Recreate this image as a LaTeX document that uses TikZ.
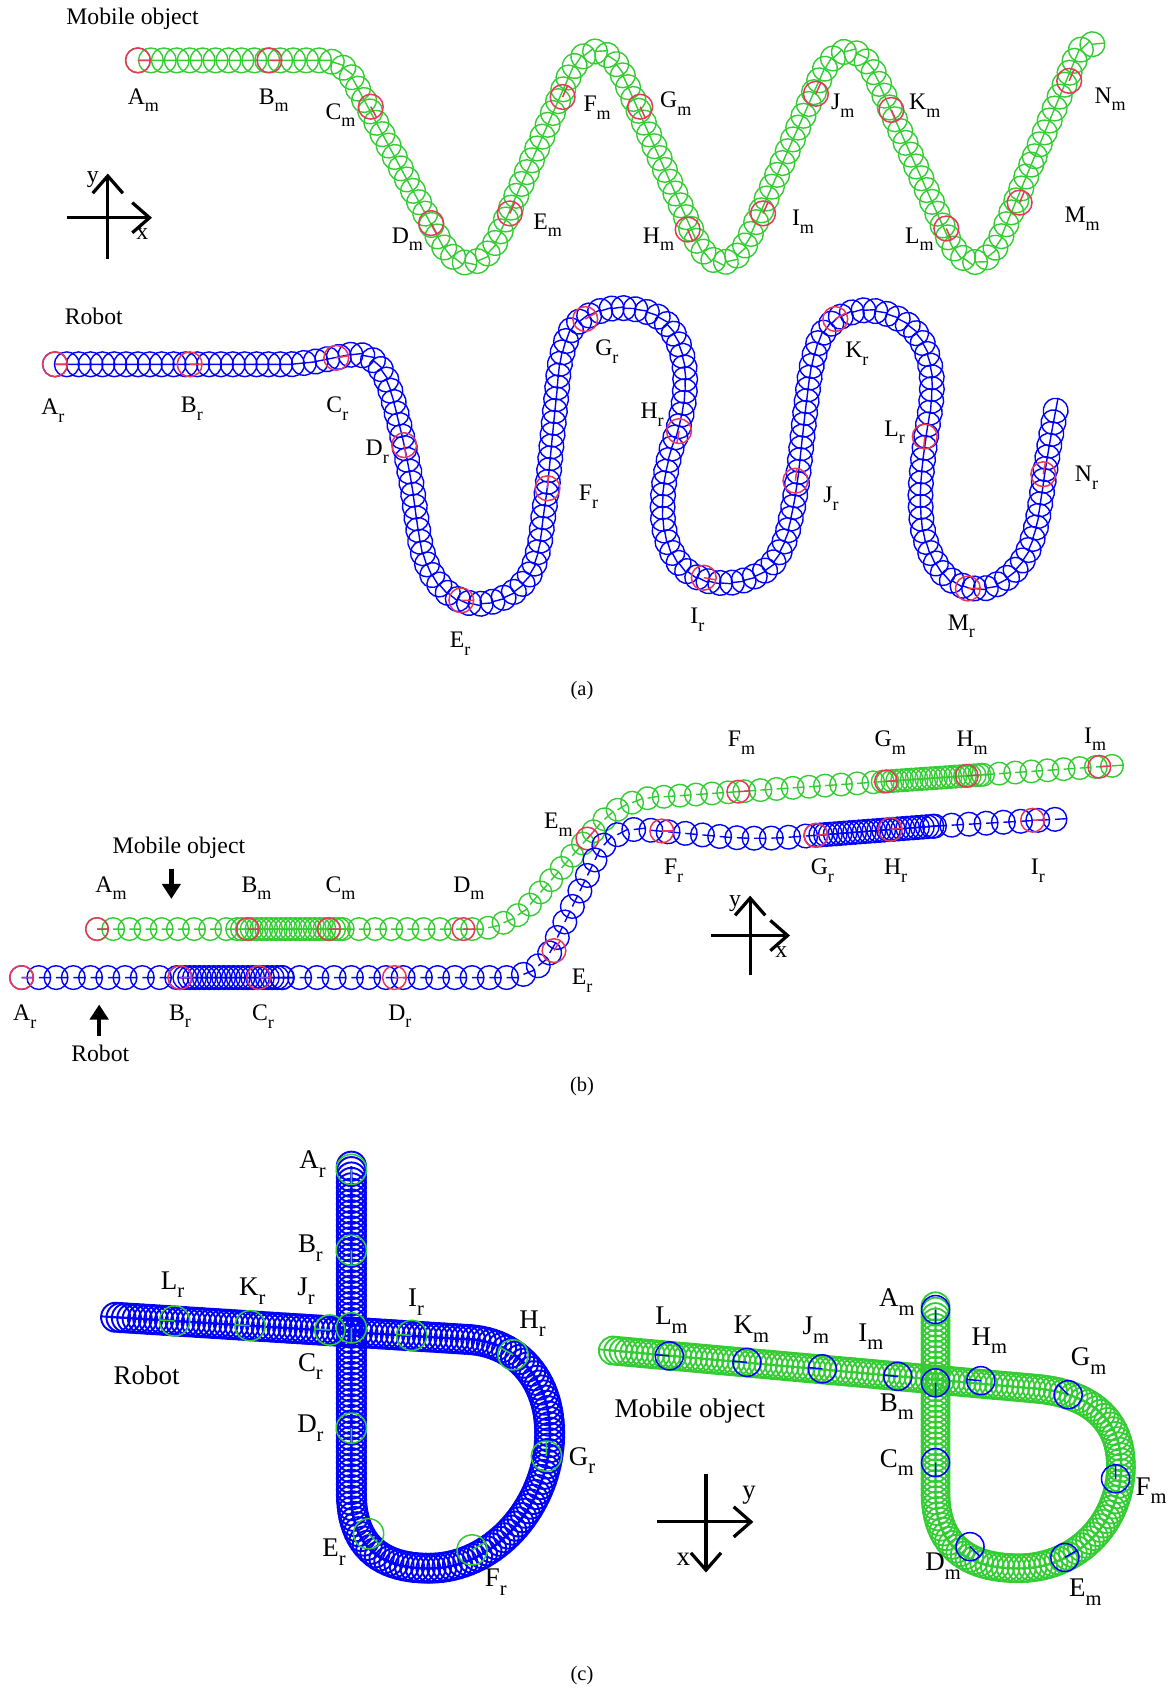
\documentclass[tikz,border=0pt]{standalone}
\usepackage{fontspec}
\usepackage{graphicx}
\setmainfont{Liberation Serif}
\usetikzlibrary{decorations.markings,arrows.meta}

\definecolor{trailgreen}{RGB}{51,204,51}
\definecolor{trailblue}{RGB}{0,0,255}
\definecolor{markred}{RGB}{232,56,90}

% A trail of poses: circles with a heading tick, repeated along a path
\tikzset{
  trail width/.store in=\trailwidth, trail width=0.65pt,
  trail/.style n args={3}{postaction={decorate,decoration={markings,
      mark=between positions 0 and 1 step #3 with
        {\draw[#1,line width=\trailwidth] (0,0) circle[radius=#2] (0,0) -- (#2,0);}}}},
  lbl/.style={inner sep=0pt,font=\fontsize{11}{12}\selectfont},
  lblc/.style={inner sep=0pt,font=\fontsize{12.5}{14}\selectfont},
  capt/.style={inner sep=0pt,font=\fontsize{9.5}{11}\selectfont},
  axis/.style={line width=1.5pt,-{Straight Barb[length=8pt,width=14pt]}},
  pointer/.style={line width=2pt,-{Triangle[length=7pt,width=8.5pt]}},
}
% a single highlighted pose: colour, radius, x, y, heading angle
\newcommand\headmark[5]{%
  \draw[#1,line width=0.7pt] (#3,#4) circle[radius=#2] (#3,#4) -- ++(#5:#2);}
% lowered index letter of a waypoint label
\newcommand\sbs[1]{\raisebox{-0.32em}{\scalebox{0.76}{#1}}}

\begin{document}
\begin{tikzpicture}[x=0.5pt,y=-0.5pt]
\useasboundingbox (0,0) rectangle (1089,1568);

%% ---------------- (a) ----------------
\node[lbl] (a-mob) at (123,17) {Mobile object};
\path[trail={trailgreen}{5.75pt}{6pt},rounded corners=9pt]
  (128,56) -- (318,56) -- (377.5,166.5);
\path[trail={trailgreen}{5.75pt}{6pt},rounded corners=31.5pt]
  (377.5,166.5) -- (437,277) -- (553,14) -- (670,277) -- (787,14) -- (905,277) -- (960,145);
\path[trail={trailgreen}{5.75pt}{6pt},rounded corners=5pt]
  (960,145) -- (1003,42) -- (1025,40);
\foreach \x/\y/\h in {128/56/0,250/56/0,344/99/-62,400/207/-62,473/198/66,522/90/66,
    594/99/-66,638/213/-66,708/198/66,757/87/66,827/102/-66,878/212/-66,946/188/67,992/75/67}
  {\headmark{markred}{5.75pt}{\x}{\y}{\h}}
\node[lbl] (a-Am) at (133,93) {A\sbs{m}};
\node[lbl] (a-Bm) at (254,93) {B\sbs{m}};
\node[lbl] (a-Cm) at (316,107) {C\sbs{m}};
\node[lbl] (a-Dm) at (378,222) {D\sbs{m}};
\node[lbl] (a-Em) at (508,209) {E\sbs{m}};
\node[lbl] (a-Fm) at (554,100) {F\sbs{m}};
\node[lbl] (a-Gm) at (627,96) {G\sbs{m}};
\node[lbl] (a-Hm) at (611,222) {H\sbs{m}};
\node[lbl] (a-Im) at (745,206) {I\sbs{m}};
\node[lbl] (a-Jm) at (782,98) {J\sbs{m}};
\node[lbl] (a-Km) at (858,98) {K\sbs{m}};
\node[lbl] (a-Lm) at (853,222) {L\sbs{m}};
\node[lbl] (a-Mm) at (1004,203) {M\sbs{m}};
\node[lbl] (a-Nm) at (1030,92) {N\sbs{m}};

% axes
\coordinate (a-ys) at (100,240); \coordinate (a-ye) at (100,161);
\coordinate (a-xs) at (62,202);  \coordinate (a-xe) at (141,202);
\draw[axis] (a-ys) -- (a-ye);
\draw[axis] (a-xs) -- (a-xe);
\node[lbl] (a-y) at (86,167) {y};
\node[lbl] (a-x) at (132,217) {x};

% robot
\node[lbl] (a-rob) at (87,294) {Robot};
\path[trail={trailblue}{5.75pt}{5.5pt}] (51,338) -- (270,338) -- plot[smooth,tension=0.55] coordinates {
  (290,336) (310,332) (328,329) (343,332) (355,345) (363,365)
  (370,392) (376,418) (382,450) (387,485) (392,512) (402,535) (418,552) (438,560)
  (458,558) (477,549) (492,532) (500,508) (504,480) (508,450) (512,410) (516,370)
  (520,335) (530,306) (548,292) (570,286) (595,288) (615,297) (628,315) (635,340)
  (635,368) (630,395) (622,420) (616,450) (615,480) (620,505) (632,525) (650,537)
  (672,541) (695,537) (715,525) (728,502) (735,475) (740,445) (744,410) (748,375)
  (753,340) (762,312) (778,295) (800,288) (822,291) (843,302) (857,320) (864,345)
  (864,372) (860,400) (856,430) (854,460) (856,490) (864,515) (878,535) (898,545)
  (918,545) (937,534) (952,515) (961,490) (966,462) (970,435) (975,405) (980,378)};
\foreach \x/\y/\h in {51/338/0,176/338/0,312/332/10,375/413/-80,428/557/0,508/453/85,
    543/296/30,630/400/-100,653/536/-10,738/446/83,775/296/30,858/405/-95,898/546/0,968/440/80}
  {\headmark{markred}{5.75pt}{\x}{\y}{\h}}
\node[lbl] (a-Ar) at (49,381) {A\sbs{r}};
\node[lbl] (a-Br) at (178,379) {B\sbs{r}};
\node[lbl] (a-Cr) at (313,379) {C\sbs{r}};
\node[lbl] (a-Dr) at (350,419) {D\sbs{r}};
\node[lbl] (a-Er) at (427,597) {E\sbs{r}};
\node[lbl] (a-Fr) at (546,461) {F\sbs{r}};
\node[lbl] (a-Gr) at (563,326) {G\sbs{r}};
\node[lbl] (a-Hr) at (605,385) {H\sbs{r}};
\node[lbl] (a-Ir) at (647,575) {I\sbs{r}};
\node[lbl] (a-Jr) at (771,463) {J\sbs{r}};
\node[lbl] (a-Kr) at (795,328) {K\sbs{r}};
\node[lbl] (a-Lr) at (830,401) {L\sbs{r}};
\node[lbl] (a-Mr) at (892,581) {M\sbs{r}};
\node[lbl] (a-Nr) at (1008,443) {N\sbs{r}};
\node[capt] (cap-a) at (540,641) {(a)};

%% ---------------- (b) ----------------
\path[trail={trailgreen}{5.25pt}{7.5pt}] (90,862) -- (220,862);
\path[trail={trailgreen}{5.25pt}{2.25pt}] (220,862) -- (318,862);
\path[trail={trailgreen}{5.25pt}{7.5pt},rounded corners=15pt]
  (318,862) -- (472,862) -- (576,742) -- (819,725.2);
\path[trail={trailgreen}{5.25pt}{2.25pt}] (819,725.2) -- (912,718.8);
\path[trail={trailgreen}{5.25pt}{7.5pt}] (912,718.8) -- (1040,710);
\foreach \x/\y/\h in {90/862/0,230/862/0,305/862/0,430/862/0,545/778/49,
    685/734.5/4,822/725/4,897/719.8/4,1020/711.4/4}
  {\headmark{markred}{5.25pt}{\x}{\y}{\h}}

\path[trail={trailblue}{5.5pt}{8pt}] (20,907) -- (167,907);
\path[trail={trailblue}{5.5pt}{2.25pt}] (167,907) -- (262,907);
\path[trail={trailblue}{5.5pt}{8pt},rounded corners=14pt]
  (262,907) -- (499,907) -- (567,767) -- (700,779) -- (757,775);
\path[trail={trailblue}{5.5pt}{2.25pt}] (757,775) -- (867,766.5);
\path[trail={trailblue}{5.5pt}{8pt}] (867,766.5) -- (982,760);
\foreach \x/\y/\h in {20/907/0,167/907/0,240/907/0,366/907/0,514/882/58,
    614/771/0,757/775/5,826/769.5/5,958/761/3}
  {\headmark{markred}{5.5pt}{\x}{\y}{\h}}

\node[lbl] (b-mob) at (166,787) {Mobile object};
\coordinate (b-mob-s) at (159,806); \coordinate (b-mob-e) at (159,834);
\draw[pointer] (b-mob-s) -- (b-mob-e);
\node[lbl] (b-rob) at (93,977) {Robot};
\coordinate (b-rob-s) at (92,961); \coordinate (b-rob-e) at (92,932);
\draw[pointer] (b-rob-s) -- (b-rob-e);

\node[lbl] (b-Am) at (103,824) {A\sbs{m}};
\node[lbl] (b-Bm) at (238,824) {B\sbs{m}};
\node[lbl] (b-Cm) at (316,824) {C\sbs{m}};
\node[lbl] (b-Dm) at (435,824) {D\sbs{m}};
\node[lbl] (b-Em) at (518,765) {E\sbs{m}};
\node[lbl] (b-Fm) at (688,689) {F\sbs{m}};
\node[lbl] (b-Gm) at (826,689) {G\sbs{m}};
\node[lbl] (b-Hm) at (902,689) {H\sbs{m}};
\node[lbl] (b-Im) at (1016,686) {I\sbs{m}};
\node[lbl] (b-Ar) at (23,943) {A\sbs{r}};
\node[lbl] (b-Br) at (167,943) {B\sbs{r}};
\node[lbl] (b-Cr) at (244,943) {C\sbs{r}};
\node[lbl] (b-Dr) at (371,943) {D\sbs{r}};
\node[lbl] (b-Er) at (540,910) {E\sbs{r}};
\node[lbl] (b-Fr) at (625,808) {F\sbs{r}};
\node[lbl] (b-Gr) at (763,808) {G\sbs{r}};
\node[lbl] (b-Hr) at (831,808) {H\sbs{r}};
\node[lbl] (b-Ir) at (963,808) {I\sbs{r}};

\coordinate (b-ys) at (696,905); \coordinate (b-ye) at (696,831);
\coordinate (b-xs) at (660,868); \coordinate (b-xe) at (733,868);
\draw[axis] (b-ys) -- (b-ye);
\draw[axis] (b-xs) -- (b-xe);
\node[lbl] (b-y) at (682,838) {y};
\node[lbl] (b-x) at (725,883) {x};
\node[capt] (cap-b) at (540,1008) {(b)};

%% ---------------- (c) ----------------
\path[trail width=0.9pt,trail={trailblue}{6.75pt}{2.5pt}]
  (326,1082) -- (326,1385)
  .. controls (326,1440) and (360,1455) .. (398,1455)
  .. controls (460,1455) and (510,1395) .. (510,1330)
  .. controls (510,1280) and (480,1245.6) .. (435,1242.8)
  -- (105,1222);
\foreach \x/\y/\h in {326/1085/-90,326/1160/-90,326/1232/-90,326/1325/-90,342/1423/-45,
    438/1438/30,507/1351/90,476/1257/150,382/1239/176,306/1234/176,232/1230/176,162/1225.6/176}
  {\headmark{trailgreen}{7pt}{\x}{\y}{\h}}
\node[lblc] (c-Ar) at (290,1080) {A\sbs{r}};
\node[lblc] (c-Br) at (288,1158) {B\sbs{r}};
\node[lblc] (c-Jr) at (284,1198) {J\sbs{r}};
\node[lblc] (c-Cr) at (288,1268) {C\sbs{r}};
\node[lblc] (c-Dr) at (288,1325) {D\sbs{r}};
\node[lblc] (c-Er) at (310,1440) {E\sbs{r}};
\node[lblc] (c-Fr) at (460,1468) {F\sbs{r}};
\node[lblc] (c-Gr) at (540,1355) {G\sbs{r}};
\node[lblc] (c-Hr) at (494,1228) {H\sbs{r}};
\node[lblc] (c-Ir) at (386,1208) {I\sbs{r}};
\node[lblc] (c-Kr) at (234,1198) {K\sbs{r}};
\node[lblc] (c-Lr) at (160,1192) {L\sbs{r}};
\node[lblc] (c-rob) at (136,1276) {Robot};

\path[trail width=0.85pt,trail={trailgreen}{6.5pt}{2.5pt}]
  (868,1212) -- (868,1385)
  .. controls (868,1440) and (905,1455) .. (945,1455)
  .. controls (1000,1455) and (1040,1412) .. (1040,1360)
  .. controls (1040,1318) and (1012,1293) .. (962,1288.5)
  -- (568,1253);
\foreach \x/\y/\h in {868/1215/-90,868/1283/-90,868/1357/-90,900/1435/-45,988/1445/30,
    1035/1372/90,991/1294/135,910/1281/175,833/1277/175,763/1270/175,693/1264/175,621/1258/175}
  {\headmark{trailblue}{6.5pt}{\x}{\y}{\h}}
\node[lblc] (c-Am) at (832,1208) {A\sbs{m}};
\node[lblc] (c-Bm) at (832,1305) {B\sbs{m}};
\node[lblc] (c-Cm) at (832,1357) {C\sbs{m}};
\node[lblc] (c-Dm) at (875,1453) {D\sbs{m}};
\node[lblc] (c-Em) at (1007,1477) {E\sbs{m}};
\node[lblc] (c-Fm) at (1068,1383) {F\sbs{m}};
\node[lblc] (c-Gm) at (1010,1263) {G\sbs{m}};
\node[lblc] (c-Hm) at (918,1244) {H\sbs{m}};
\node[lblc] (c-Im) at (808,1240) {I\sbs{m}};
\node[lblc] (c-Jm) at (757,1234) {J\sbs{m}};
\node[lblc] (c-Km) at (697,1233) {K\sbs{m}};
\node[lblc] (c-Lm) at (623,1225) {L\sbs{m}};
\node[lblc] (c-mob) at (640,1309) {Mobile object};

\coordinate (c-xs) at (655,1368); \coordinate (c-xe) at (655,1459);
\coordinate (c-ys) at (610,1412); \coordinate (c-ye) at (699,1412);
\draw[axis] (c-xs) -- (c-xe);
\draw[axis] (c-ys) -- (c-ye);
\node[lblc] (c-y) at (695,1387) {y};
\node[lblc] (c-x) at (634,1447) {x};
\node[capt] (cap-c) at (540,1555) {(c)};
\end{tikzpicture}
\end{document}
